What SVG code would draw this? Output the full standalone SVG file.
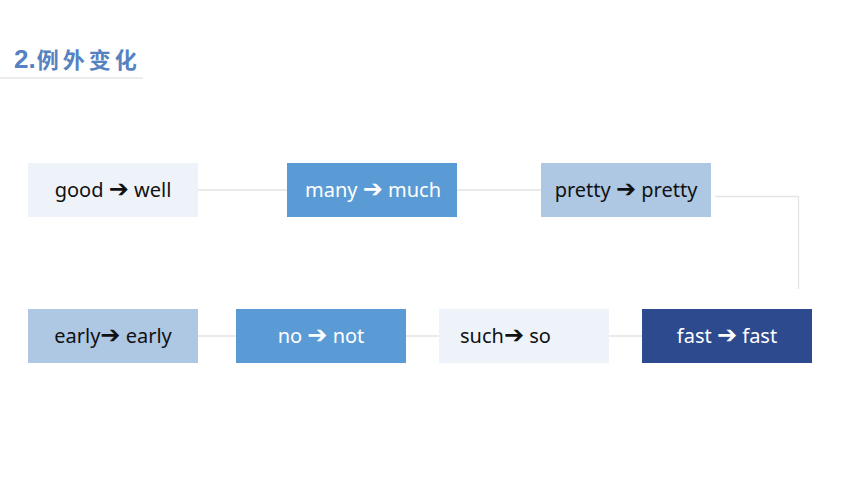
<svg xmlns="http://www.w3.org/2000/svg" width="860" height="484" viewBox="0 0 860 484">
<style>
.lbl{font-family:"Noto Sans","Open Sans","DejaVu Sans",sans-serif;font-size:20px;text-anchor:middle}
.st{text-anchor:start}
.ar{font-family:"DejaVu Sans",sans-serif;font-weight:bold;font-size:24px}
.dk{fill:#111111}
.wt{fill:#ffffff}
.con{stroke:#E3E3E3;stroke-width:1.3;fill:none}
</style>
<rect width="860" height="484" fill="#ffffff"/>
<g id="title">
<text x="14" y="68" font-family="'Liberation Sans','Noto Sans CJK SC',sans-serif" font-size="26" font-weight="bold" fill="#5682C2">2.<tspan font-family="'Noto Sans CJK SC',sans-serif" font-size="22" letter-spacing="4" dx="1">例外变化</tspan></text>
<line x1="0" y1="78" x2="143" y2="78" stroke="#E6E6E6" stroke-width="1.5"/>
</g>
<g id="connectors">
<line class="con" x1="198" y1="190" x2="287" y2="190"/>
<line class="con" x1="457" y1="190" x2="541" y2="190"/>
<polyline class="con" points="715,196.5 798.5,196.5 798.5,289"/>
<line class="con" x1="198" y1="336" x2="236" y2="336"/>
<line class="con" x1="406" y1="336" x2="439" y2="336"/>
<line class="con" x1="609" y1="336" x2="642" y2="336"/>
</g>
<g id="n1"><rect x="28" y="163" width="170" height="54" fill="#EEF3FA"/><text class="lbl dk" x="113" y="197">good <tspan class="ar">➔</tspan> well</text></g>
<g id="n2"><rect x="287" y="163" width="170" height="54" fill="#5B9BD5"/><text class="lbl wt" x="373" y="197">many <tspan class="ar">➔</tspan> much</text></g>
<g id="n3"><rect x="541" y="163" width="170" height="54" fill="#AEC8E4"/><text class="lbl dk" x="626" y="197">pretty <tspan class="ar">➔</tspan> pretty</text></g>
<g id="n4"><rect x="642" y="309" width="170" height="54" fill="#2E4A8F"/><text class="lbl wt" x="727" y="343">fast <tspan class="ar">➔</tspan> fast</text></g>
<g id="n5"><rect x="439" y="309" width="170" height="54" fill="#EEF3FA"/><text class="lbl st dk" x="460" y="343">such<tspan class="ar">➔</tspan> so</text></g>
<g id="n6"><rect x="236" y="309" width="170" height="54" fill="#5B9BD5"/><text class="lbl wt" x="321" y="343">no <tspan class="ar">➔</tspan> not</text></g>
<g id="n7"><rect x="28" y="309" width="170" height="54" fill="#AEC8E4"/><text class="lbl dk" x="113" y="343">early<tspan class="ar">➔</tspan> early</text></g>
</svg>
